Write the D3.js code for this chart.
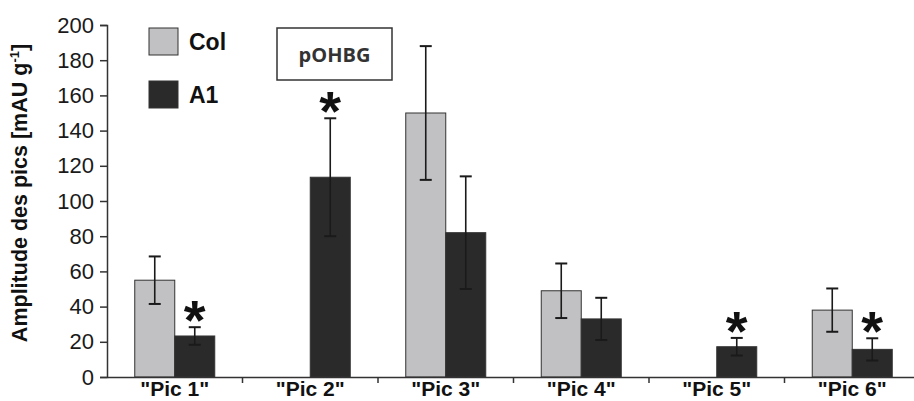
<!DOCTYPE html>
<html>
<head>
<meta charset="utf-8">
<script src="https://cdn.jsdelivr.net/npm/d3@7"></script>
<style>
  body { margin: 0; background: #fff; }
  svg { display: block; font-family: "Liberation Sans", Arial, sans-serif; }
</style>
</head>
<body>
<div id="chart"></div>
<script>
const categories = ['"Pic 1"', '"Pic 2"', '"Pic 3"', '"Pic 4"', '"Pic 5"', '"Pic 6"'];
const series = ['Col', 'A1'];
const colValues = [55, 0, 150, 49, 0, 38];
const colErrors = [13.5, 0, 38, 15.5, 0, 12.3];
const a1Values = [23.3, 113.5, 82, 33, 17.2, 15.7];
const a1Errors = [5, 33.5, 32, 12, 5, 6.3];
const significant = [true, true, false, false, true, true];
const yTicks = [0, 20, 40, 60, 80, 100, 120, 140, 160, 180, 200];

const width = 914, height = 401;
const colors = { Col: '#c1c0c2', A1: '#2a2a2a' };

const svg = d3.select('#chart').append('svg')
  .attr('width', width)
  .attr('height', height);

const x = d3.scaleBand().domain(categories).range([107, 920]).paddingInner(0).paddingOuter(0);
const x1 = d3.scaleBand().domain(series).range([0, 80]);
const y = d3.scaleLinear().domain([0, 200]).range([377, 25]);

const rows = categories.map((c, i) => ({
  cat: c,
  bars: [
    { key: 'Col', value: colValues[i], err: colErrors[i] },
    { key: 'A1', value: a1Values[i], err: a1Errors[i] },
  ],
  sig: significant[i],
}));

const groupOffset = (x.bandwidth() - 80) / 2;

const groups = svg.append('g').selectAll('g')
  .data(rows)
  .join('g')
  .attr('transform', (d) => `translate(${x(d.cat) + groupOffset},0)`);

const bars = groups.selectAll('g.bar')
  .data((d) => d.bars.filter((b) => b.value > 0))
  .join('g')
  .attr('class', 'bar');

bars.append('rect')
  .attr('x', (d) => x1(d.key))
  .attr('y', (d) => y(d.value))
  .attr('width', x1.bandwidth())
  .attr('height', (d) => y(0) - y(d.value))
  .attr('fill', (d) => colors[d.key])
  .attr('stroke', '#333')
  .attr('stroke-width', 1);

// error bars
const cx = (d) => x1(d.key) + x1.bandwidth() / 2;
bars.append('line')
  .attr('x1', cx).attr('x2', cx)
  .attr('y1', (d) => y(d.value + d.err))
  .attr('y2', (d) => y(d.value - d.err))
  .attr('stroke', '#1a1a1a').attr('stroke-width', 1.6);
[1, -1].forEach((s) => {
  bars.append('line')
    .attr('x1', (d) => cx(d) - 6).attr('x2', (d) => cx(d) + 6)
    .attr('y1', (d) => y(d.value + s * d.err))
    .attr('y2', (d) => y(d.value + s * d.err))
    .attr('stroke', '#1a1a1a').attr('stroke-width', 2);
});

// significance asterisks above A1
groups.filter((d) => d.sig).append('text')
  .attr('x', x1('A1') + x1.bandwidth() / 2)
  .attr('y', (d) => y(d.bars[1].value + d.bars[1].err) + 12)
  .attr('text-anchor', 'middle')
  .attr('font-size', 56)
  .attr('font-weight', 'bold')
  .attr('fill', '#111')
  .text('*');

// Y axis
const yAxis = svg.append('g')
  .attr('transform', 'translate(107,0)')
  .call(d3.axisLeft(y).tickValues(yTicks).tickSizeOuter(0).tickSize(7).tickPadding(6));
yAxis.select('.domain').attr('stroke', '#333').attr('stroke-width', 1.5);
yAxis.selectAll('.tick line').attr('stroke', '#333').attr('stroke-width', 1.5);
yAxis.selectAll('.tick text')
  .attr('font-size', 22)
  .attr('fill', '#1a1a1a')
  .attr('font-family', '"Liberation Sans", Arial, sans-serif');

// X axis
const xAxis = svg.append('g')
  .attr('transform', 'translate(0,377)')
  .call(d3.axisBottom(x).tickSize(0).tickPadding(4));
xAxis.select('.domain').attr('stroke', '#333').attr('stroke-width', 1.5);
xAxis.selectAll('.tick text')
  .attr('font-size', 21)
  .attr('font-weight', 'bold')
  .attr('fill', '#111')
  .attr('font-family', '"Liberation Sans", Arial, sans-serif');
// separator marks between categories
xAxis.selectAll('line.sep')
  .data(categories.slice(1))
  .join('line')
  .attr('class', 'sep')
  .attr('x1', (d) => x(d)).attr('x2', (d) => x(d))
  .attr('y1', 0).attr('y2', 6)
  .attr('stroke', '#333').attr('stroke-width', 1.5);

// Y title
svg.append('text')
  .attr('transform', 'translate(27,193) rotate(-90)')
  .attr('text-anchor', 'middle')
  .attr('font-size', 21.5)
  .attr('font-weight', 'bold')
  .attr('fill', '#111')
  .call((t) => {
    t.append('tspan').text('Amplitude des pics [mAU g');
    t.append('tspan').attr('dy', -8).attr('font-size', 13).text('-1');
    t.append('tspan').attr('dy', 8).text(']');
  });

// legend
const legend = svg.append('g').attr('transform', 'translate(149,28)');
legend.selectAll('g')
  .data(series)
  .join('g')
  .attr('transform', (d, i) => `translate(0,${i * 53})`)
  .call((g) => {
    g.append('rect')
      .attr('width', 29).attr('height', 27)
      .attr('fill', (d) => colors[d])
      .attr('stroke', '#333').attr('stroke-width', 1);
    g.append('text')
      .attr('x', 40).attr('y', 22)
      .attr('font-size', 23)
      .attr('font-weight', 'bold')
      .attr('fill', '#111')
      .text((d) => d);
  });

// label box
svg.append('rect')
  .attr('x', 277).attr('y', 28)
  .attr('width', 115).attr('height', 52)
  .attr('fill', '#fff')
  .attr('stroke', '#333').attr('stroke-width', 1.5);
svg.append('text')
  .attr('x', 334.5).attr('y', 62)
  .attr('text-anchor', 'middle')
  .attr('font-family', '"Open Sans", sans-serif')
  .attr('font-size', 20)
  .attr('font-weight', 'bold')
  .attr('fill', '#333')
  .text('pOHBG');
</script>
</body>
</html>
